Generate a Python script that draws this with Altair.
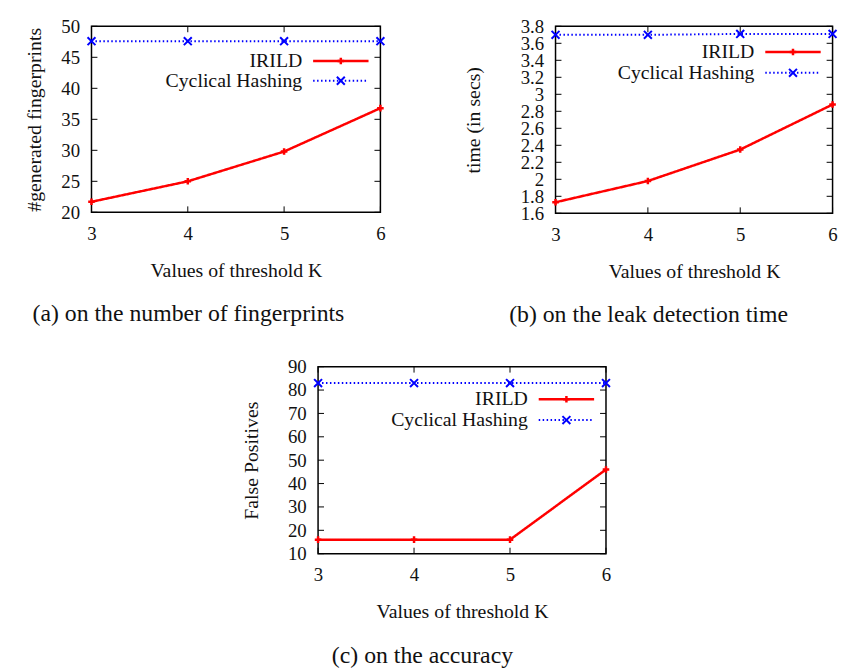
import altair as alt
import pandas as pd

# Threshold K on the x axis of every panel
k_values = [3, 4, 5, 6]

# Series values per panel
fingerprints_irild = [21.7, 25.0, 29.8, 36.8]
fingerprints_cyclical = [47.6, 47.6, 47.6, 47.6]
time_irild = [1.73, 1.98, 2.35, 2.88]
time_cyclical = [3.70, 3.70, 3.71, 3.71]
falsepos_irild = [16, 16, 16, 46]
falsepos_cyclical = [83, 83, 83, 83]

series_names = ["IRILD", "Cyclical Hashing"]

# Tick labels
y_ticks_a = [20, 25, 30, 35, 40, 45, 50]
y_ticks_b = [1.6, 1.8, 2.0, 2.2, 2.4, 2.6, 2.8, 3.0, 3.2, 3.4, 3.6, 3.8]
y_ticks_c = [10, 20, 30, 40, 50, 60, 70, 80, 90]

x_title = "Values of threshold K"
y_titles = ["#generated fingerprints", "time (in secs)", "False Positives"]
captions = [
    "(a)\u00a0on the number of fingerprints",
    "(b)\u00a0on the leak detection time",
    "(c)\u00a0on the accuracy",
]

FONT = "Liberation Serif"
INK = "#111111"
RED = "#ff0000"
BLUE = "#0000ff"
PLUS = "M-1,0H1M0,-1V1"
CROSS = "M-1,-1L1,1M-1,1L1,-1"
TICK = 6
LABEL_EXPR = "format(datum.value, '~g')"


def panel(irild, cyclical, y_ticks, y_title, caption, width, height,
          y_title_pad, legend_ys, cap_dx):
    long = pd.DataFrame({
        "k": k_values * 2,
        "series": [series_names[0]] * len(k_values) + [series_names[1]] * len(k_values),
        "value": list(irild) + list(cyclical),
    })

    x_scale = alt.Scale(domain=[k_values[0], k_values[-1]], nice=False, zero=False)
    y_scale = alt.Scale(domain=[y_ticks[0], y_ticks[-1]], nice=False, zero=False)
    color = alt.Color("series:N", scale=alt.Scale(domain=series_names, range=[RED, BLUE]), legend=None)
    dash = alt.StrokeDash("series:N", scale=alt.Scale(domain=series_names, range=[[1, 0], [1.5, 2.5]]), legend=None)
    width_enc = alt.StrokeWidth("series:N", scale=alt.Scale(domain=series_names, range=[2.5, 2]), legend=None)
    shape = alt.Shape("series:N", scale=alt.Scale(domain=series_names, range=[PLUS, CROSS]), legend=None)
    size = alt.Size("series:N", scale=alt.Scale(domain=series_names, range=[44, 64]), legend=None)
    pt_width = alt.StrokeWidth("series:N", scale=alt.Scale(domain=series_names, range=[2, 3]), legend=None)

    x_axis = alt.Axis(values=k_values, labelExpr=LABEL_EXPR, title=x_title, titlePadding=18,
                      labelFont=FONT, titleFont=FONT)
    y_axis = alt.Axis(values=y_ticks, labelExpr=LABEL_EXPR, title=y_title, titlePadding=y_title_pad,
                      labelFont=FONT, titleFont=FONT)
    xk = alt.X("k:Q", scale=x_scale, axis=x_axis)
    yv = alt.Y("value:Q", scale=y_scale, axis=y_axis)

    base = alt.Chart(long)
    lines = base.mark_line(clip=False).encode(
        x=xk, y=yv, color=color, strokeDash=dash, strokeWidth=width_enc, detail="series:N",
    )
    points = base.mark_point(filled=False, opacity=1, clip=False).encode(
        x=xk, y=yv, stroke=color, shape=shape, size=size, strokeWidth=pt_width,
    )

    # inward ticks on all four sides of the frame
    ydf = pd.DataFrame({"value": y_ticks})
    xdf = pd.DataFrame({"k": k_values})
    left_ticks = alt.Chart(ydf).mark_rule(color="black", strokeWidth=1).encode(
        y=yv, x=alt.value(0), x2=alt.value(TICK))
    right_ticks = alt.Chart(ydf).mark_rule(color="black", strokeWidth=1).encode(
        y=yv, x=alt.value(width - TICK), x2=alt.value(width))
    bottom_ticks = alt.Chart(xdf).mark_rule(color="black", strokeWidth=1).encode(
        x=xk, y=alt.value(height - TICK), y2=alt.value(height))
    top_ticks = alt.Chart(xdf).mark_rule(color="black", strokeWidth=1).encode(
        x=xk, y=alt.value(0), y2=alt.value(TICK))

    # key drawn inside the frame, top right
    key_layers = []
    for i, name in enumerate(series_names):
        row = alt.Chart(pd.DataFrame({"series": [name]}))
        ky = legend_ys[i]
        key_layers.append(row.mark_text(
            align="right", baseline="middle", font=FONT, fontSize=20, color=INK,
        ).encode(text="series:N", x=alt.value(width - 79), y=alt.value(ky)))
        key_layers.append(row.mark_rule().encode(
            x=alt.value(width - 68), x2=alt.value(width - 12), y=alt.value(ky),
            color=color, strokeDash=dash, strokeWidth=width_enc,
        ))
        key_layers.append(row.mark_point(filled=False, opacity=1).encode(
            x=alt.value(width - 40), y=alt.value(ky),
            stroke=color, shape=shape, size=size, strokeWidth=pt_width,
        ))

    return alt.layer(
        lines, left_ticks, right_ticks, bottom_ticks, top_ticks, points, *key_layers
    ).properties(
        width=width, height=height,
        title=alt.TitleParams(text=caption, orient="bottom", anchor="middle", offset=22,
                              dx=cap_dx, font=FONT),
    )


chart_a = panel(fingerprints_irild, fingerprints_cyclical, y_ticks_a, y_titles[0], captions[0],
                292, 188, 17, [35, 55], -48)
chart_b = panel(time_irild, time_cyclical, y_ticks_b, y_titles[1], captions[1],
                280, 189, 37, [26, 47], -46)
chart_c = panel(falsepos_irild, falsepos_cyclical, y_ticks_c, y_titles[2], captions[2],
                291, 189, 26, [33, 54], -40)

chart = alt.vconcat(
    alt.hconcat(chart_a, chart_b, spacing=73),
    chart_c,
    spacing=29,
    center=True,
).properties(
    padding={"left": 23, "top": 13, "right": 0, "bottom": 0},
    background="white",
).configure(
    font=FONT,
).configure_view(
    stroke="black", strokeWidth=1.5,
).configure_axis(
    grid=False, domain=False, ticks=False,
    labelFont=FONT, labelFontSize=19, labelColor=INK, labelPadding=12,
    labelFlush=False, labelOverlap=False, labelBound=False,
    titleFont=FONT, titleFontSize=20, titleFontWeight="normal", titleColor=INK,
).configure_title(
    font=FONT, fontSize=24, fontWeight="normal", color=INK,
)

chart.save("out.html", embed_options={"renderer": "svg", "actions": False})
